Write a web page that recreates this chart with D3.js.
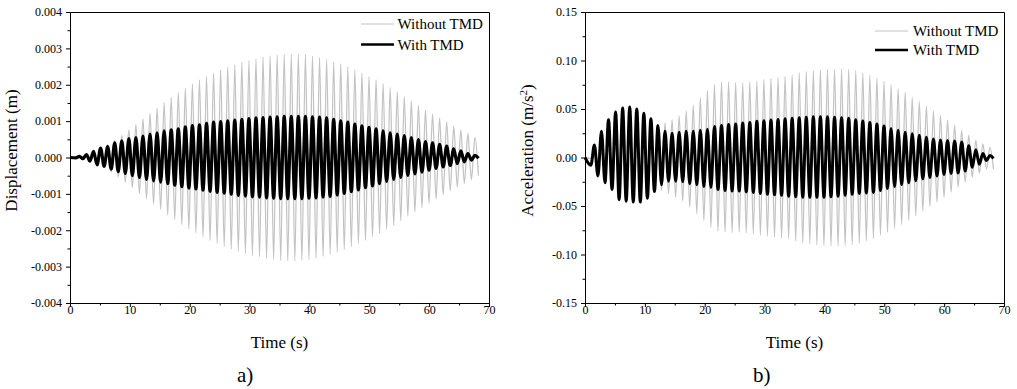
<!DOCTYPE html>
<html>
<head>
<meta charset="utf-8">
<script src="https://cdn.jsdelivr.net/npm/d3@7"></script>
<style>
  body { margin: 0; background: #fff; }
  svg { display: block; }
  svg text { font-family: "Liberation Serif", "Times New Roman", serif; }
</style>
</head>
<body>
<svg id="chart" width="1017" height="389"></svg>
<script>
// times of the peaks / troughs (s)
const peakTimes = [
  0, 0.98, 1.57,
  2.16, 2.75, 3.34, 3.93, 4.52, 5.11, 5.70, 6.29, 6.88, 7.47,
  8.06, 8.65, 9.24, 9.83, 10.42, 11.01, 11.60, 12.19, 12.78, 13.37,
  13.96, 14.55, 15.14, 15.73, 16.32, 16.91, 17.50, 18.09, 18.68, 19.27,
  19.86, 20.45, 21.04, 21.63, 22.22, 22.81, 23.40, 23.99, 24.58, 25.17,
  25.76, 26.35, 26.94, 27.53, 28.12, 28.71, 29.30, 29.89, 30.48, 31.07,
  31.66, 32.25, 32.84, 33.43, 34.02, 34.61, 35.20, 35.79, 36.38, 36.97,
  37.56, 38.15, 38.74, 39.33, 39.92, 40.51, 41.10, 41.69, 42.28, 42.87,
  43.46, 44.05, 44.64, 45.23, 45.82, 46.41, 47.00, 47.59, 48.18, 48.77,
  49.36, 49.95, 50.54, 51.13, 51.72, 52.31, 52.90, 53.49, 54.08, 54.67,
  55.26, 55.85, 56.44, 57.03, 57.62, 58.21, 58.80, 59.39, 59.98, 60.57,
  61.16, 61.75, 62.34, 62.93, 63.52, 64.11, 64.70, 65.29, 65.88, 66.47,
  67.06, 67.65, 68.24
];

// a) displacement (m)
const dispWithout = [
  0, 0, 0.00001,
  -0.00002, 0.00005, -0.00008, 0.00012, -0.00017, 0.00022, -0.00028, 0.00035, -0.0004, 0.00046,
  -0.00053, 0.00061, -0.00068, 0.00076, -0.00083, 0.00091, -0.00099, 0.00107, -0.00114, 0.00121,
  -0.00128, 0.00136, -0.00143, 0.00151, -0.00158, 0.00165, -0.00171, 0.00178, -0.00184, 0.0019,
  -0.00196, 0.00202, -0.00207, 0.00213, -0.00218, 0.00223, -0.00228, 0.00232, -0.00236, 0.00241,
  -0.00245, 0.00249, -0.00252, 0.00255, -0.00258, 0.00262, -0.00264, 0.00267, -0.00269, 0.00271,
  -0.00273, 0.00276, -0.00278, 0.0028, -0.00281, 0.00282, -0.00283, 0.00284, -0.00284, 0.00284,
  -0.00284, 0.00284, -0.00283, 0.00283, -0.00281, 0.00279, -0.00277, 0.00275, -0.00272, 0.00269,
  -0.00266, 0.00263, -0.0026, 0.00257, -0.00253, 0.0025, -0.00245, 0.00241, -0.00237, 0.00232,
  -0.00228, 0.00223, -0.00218, 0.00214, -0.00208, 0.00203, -0.00197, 0.00192, -0.00186, 0.0018,
  -0.00174, 0.00168, -0.00162, 0.00156, -0.0015, 0.00144, -0.00138, 0.00131, -0.00126, 0.0012,
  -0.00114, 0.00109, -0.00103, 0.00098, -0.00092, 0.00086, -0.00081, 0.00076, -0.00071, 0.00066,
  -0.0006, 0.00055, -0.0005
];
const dispWith = [
  0, -0.00001, 0.00003,
  -0.00003, 0.00008, -0.0001, 0.00017, -0.0002, 0.00026, -0.00024, 0.0003, -0.00032, 0.0004,
  -0.00039, 0.00046, -0.00044, 0.00052, -0.0005, 0.00055, -0.00055, 0.00059, -0.0006, 0.00064,
  -0.00064, 0.00068, -0.00068, 0.00073, -0.00072, 0.00076, -0.00076, 0.00079, -0.0008, 0.00084,
  -0.00084, 0.00088, -0.00086, 0.0009, -0.0009, 0.00094, -0.00093, 0.00097, -0.00096, 0.00099,
  -0.00098, 0.00101, -0.00101, 0.00103, -0.00104, 0.00105, -0.00106, 0.00107, -0.00108, 0.00109,
  -0.00109, 0.0011, -0.00111, 0.00111, -0.00112, 0.00112, -0.00113, 0.00113, -0.00113, 0.00113,
  -0.00113, 0.00113, -0.00113, 0.00113, -0.00112, 0.00112, -0.00111, 0.00111, -0.00109, 0.00109,
  -0.00107, 0.00105, -0.00103, 0.00101, -0.00099, 0.00097, -0.00094, 0.00092, -0.00089, 0.00087,
  -0.00083, 0.00083, -0.00078, 0.00079, -0.00072, 0.00073, -0.00066, 0.00068, -0.0006, 0.00064,
  -0.00055, 0.0006, -0.00049, 0.00055, -0.00045, 0.00049, -0.0004, 0.00044, -0.00035, 0.0004,
  -0.0003, 0.00036, -0.00026, 0.00031, -0.00022, 0.00024, -0.00017, 0.00018, -0.00012, 0.00011,
  -0.00007, 0.00006, -0.00002
];

// b) acceleration (m/s2)
const accWithout = [
  0, -0.001, 0.001,
  -0.002, 0.004, -0.005, 0.007, -0.008, 0.01, -0.012, 0.014, -0.016, 0.018,
  -0.019, 0.021, -0.023, 0.025, -0.027, 0.029, -0.03, 0.033, -0.034, 0.036,
  -0.037, 0.039, -0.041, 0.043, -0.045, 0.048, -0.051, 0.054, -0.058, 0.062,
  -0.065, 0.069, -0.072, 0.075, -0.076, 0.078, -0.077, 0.078, -0.0775, 0.0775,
  -0.077, 0.077, -0.0775, 0.078, -0.0785, 0.079, -0.08, 0.0805, -0.081, 0.0815,
  -0.082, 0.0825, -0.083, 0.0835, -0.084, 0.085, -0.086, 0.0875, -0.088, 0.0885,
  -0.089, 0.0895, -0.09, 0.0905, -0.0908, 0.091, -0.0912, 0.0912, -0.0912, 0.0912,
  -0.091, 0.0908, -0.0902, 0.0895, -0.0885, 0.0872, -0.086, 0.0848, -0.0833, 0.0818,
  -0.08, 0.0785, -0.0768, 0.075, -0.073, 0.071, -0.069, 0.067, -0.0645, 0.062,
  -0.06, 0.0575, -0.055, 0.053, -0.0505, 0.048, -0.0457, 0.0433, -0.041, 0.0385,
  -0.0358, 0.0332, -0.0306, 0.028, -0.0254, 0.0228, -0.0203, 0.0178, -0.016, 0.014,
  -0.012, 0.0105, -0.012
];
const accWith = [
  0, -0.008, 0.013,
  -0.019, 0.027, -0.026, 0.039, -0.033, 0.047, -0.0435, 0.051, -0.045, 0.052,
  -0.046, 0.05, -0.046, 0.0456, -0.042, 0.04, -0.035, 0.033, -0.028, 0.027,
  -0.0245, 0.025, -0.0245, 0.026, -0.025, 0.027, -0.027, 0.027, -0.028, 0.028,
  -0.03, 0.029, -0.031, 0.032, -0.033, 0.033, -0.034, 0.034, -0.0345, 0.0345,
  -0.0345, 0.0355, -0.0355, 0.036, -0.036, 0.0373, -0.037, 0.038, -0.038, 0.0387,
  -0.0385, 0.0393, -0.039, 0.04, -0.04, 0.0405, -0.0405, 0.041, -0.041, 0.0415,
  -0.041, 0.042, -0.041, 0.042, -0.041, 0.042, -0.0405, 0.0415, -0.04, 0.041,
  -0.039, 0.0405, -0.038, 0.039, -0.037, 0.0375, -0.0365, 0.036, -0.036, 0.0345,
  -0.034, 0.0325, -0.032, 0.03, -0.03, 0.028, -0.028, 0.026, -0.026, 0.0245,
  -0.024, 0.023, -0.022, 0.021, -0.0205, 0.019, -0.019, 0.018, -0.0175, 0.0175,
  -0.0165, 0.017, -0.016, 0.016, -0.014, 0.012, -0.01, 0.008, -0.007, 0.004,
  -0.003, 0.002, -0.001
];

// axis ticks
const timeTicks = [0, 10, 20, 30, 40, 50, 60, 70];
const timeMinor = [5, 15, 25, 35, 45, 55, 65];
const dispTicks = [-0.004, -0.003, -0.002, -0.001, 0, 0.001, 0.002, 0.003, 0.004];
const dispMinor = [-0.0035, -0.0025, -0.0015, -0.0005, 0.0005, 0.0015, 0.0025, 0.0035];
const accTicks = [-0.15, -0.10, -0.05, 0, 0.05, 0.10, 0.15];
const accMinor = [-0.125, -0.075, -0.025, 0.025, 0.075, 0.125];
const seriesNames = ["Without TMD", "With TMD"];

const svg = d3.select("#chart");

/* one panel */
function drawPanel(p) {
  const g = svg.append("g");

  const x = d3.scaleLinear().domain([0, 70]).range([p.left, p.right]);
  const y = d3.scaleLinear().domain(p.yDomain).range([p.bottom, p.top]);

  // series (gray first, black on top)
  const line = d3.line()
    .x((d, i) => x(peakTimes[i]))
    .y(d => y(d))
    .curve(d3.curveMonotoneX);

  p.series.forEach(s => {
    g.append("path")
      .datum(s.values)
      .attr("fill", "none")
      .attr("stroke", s.color)
      .attr("stroke-width", s.width)
      .attr("stroke-linejoin", "round")
      .attr("d", line);
  });

  // top / right frame
  g.append("g")
    .attr("transform", `translate(0,${p.top})`)
    .call(d3.axisTop(x).tickValues([]).tickSizeOuter(0));
  g.append("g")
    .attr("transform", `translate(${p.right},0)`)
    .call(d3.axisRight(y).tickValues([]).tickSizeOuter(0));

  // bottom axis
  g.append("g")
    .attr("transform", `translate(0,${p.bottom})`)
    .call(d3.axisBottom(x).tickValues(timeMinor).tickSize(2.5).tickFormat("").tickSizeOuter(0));
  const xAxis = g.append("g")
    .attr("transform", `translate(0,${p.bottom})`)
    .call(d3.axisBottom(x).tickValues(timeTicks).tickSize(4).tickPadding(-2)
      .tickSizeOuter(0).tickFormat(d => String(d)));
  xAxis.attr("font-family", null).attr("font-size", 12);

  // left axis
  g.append("g")
    .attr("transform", `translate(${p.left},0)`)
    .call(d3.axisLeft(y).tickValues(p.yMinor).tickSize(2.5).tickFormat("").tickSizeOuter(0));
  const yAxis = g.append("g")
    .attr("transform", `translate(${p.left},0)`)
    .call(d3.axisLeft(y).tickValues(p.yTicks).tickSize(4).tickPadding(4)
      .tickSizeOuter(0).tickFormat(d => d.toFixed(p.digits)));
  yAxis.attr("font-family", null).attr("font-size", 12);

  // axis titles
  g.append("text")
    .attr("x", (p.left + p.right) / 2)
    .attr("y", 348)
    .attr("text-anchor", "middle")
    .attr("font-size", 17)
    .text("Time (s)");

  const yt = g.append("text")
    .attr("transform", `translate(${p.yTitleX},150.5) rotate(-90)`)
    .attr("text-anchor", "middle")
    .attr("font-size", 17)
    .text(p.yTitle);
  if (p.yTitleSup) {
    yt.append("tspan")
      .attr("baseline-shift", "super")
      .attr("font-size", 11)
      .text(p.yTitleSup);
    yt.append("tspan").text(")");
  }

  // panel tag
  g.append("text")
    .attr("x", p.tagX)
    .attr("y", 382)
    .attr("font-size", 21)
    .text(p.tag);

  // legend
  p.series.forEach((s, i) => {
    const ly = p.legendY[i];
    g.append("line")
      .attr("x1", p.legendX[0]).attr("x2", p.legendX[1])
      .attr("y1", ly).attr("y2", ly)
      .attr("stroke", s.color)
      .attr("stroke-width", s.legendWidth);
    g.append("text")
      .attr("x", p.legendX[2])
      .attr("y", ly + 5)
      .attr("font-size", 15)
      .text(seriesNames[i]);
  });
}

drawPanel({
  left: 70, right: 489, top: 12, bottom: 303,
  yDomain: [-0.004, 0.004], yTicks: dispTicks, yMinor: dispMinor, digits: 3,
  yTitle: "Displacement (m)", yTitleX: 17,
  tag: "a)", tagX: 237,
  legendX: [361, 394, 397.5], legendY: [24, 44.5],
  series: [
    {values: dispWithout, color: "#c3c3c3", width: 1.3, legendWidth: 1.2},
    {values: dispWith, color: "#000", width: 3.2, legendWidth: 2.6}
  ]
});

drawPanel({
  left: 585, right: 1004, top: 12, bottom: 303,
  yDomain: [-0.15, 0.15], yTicks: accTicks, yMinor: accMinor, digits: 2,
  yTitle: "Acceleration (m/s", yTitleSup: "2", yTitleX: 533,
  tag: "b)", tagX: 753,
  legendX: [875, 908, 913], legendY: [31, 50],
  series: [
    {values: accWithout, color: "#c3c3c3", width: 1.3, legendWidth: 1.2},
    {values: accWith, color: "#000", width: 3, legendWidth: 2.6}
  ]
});
</script>
</body>
</html>
